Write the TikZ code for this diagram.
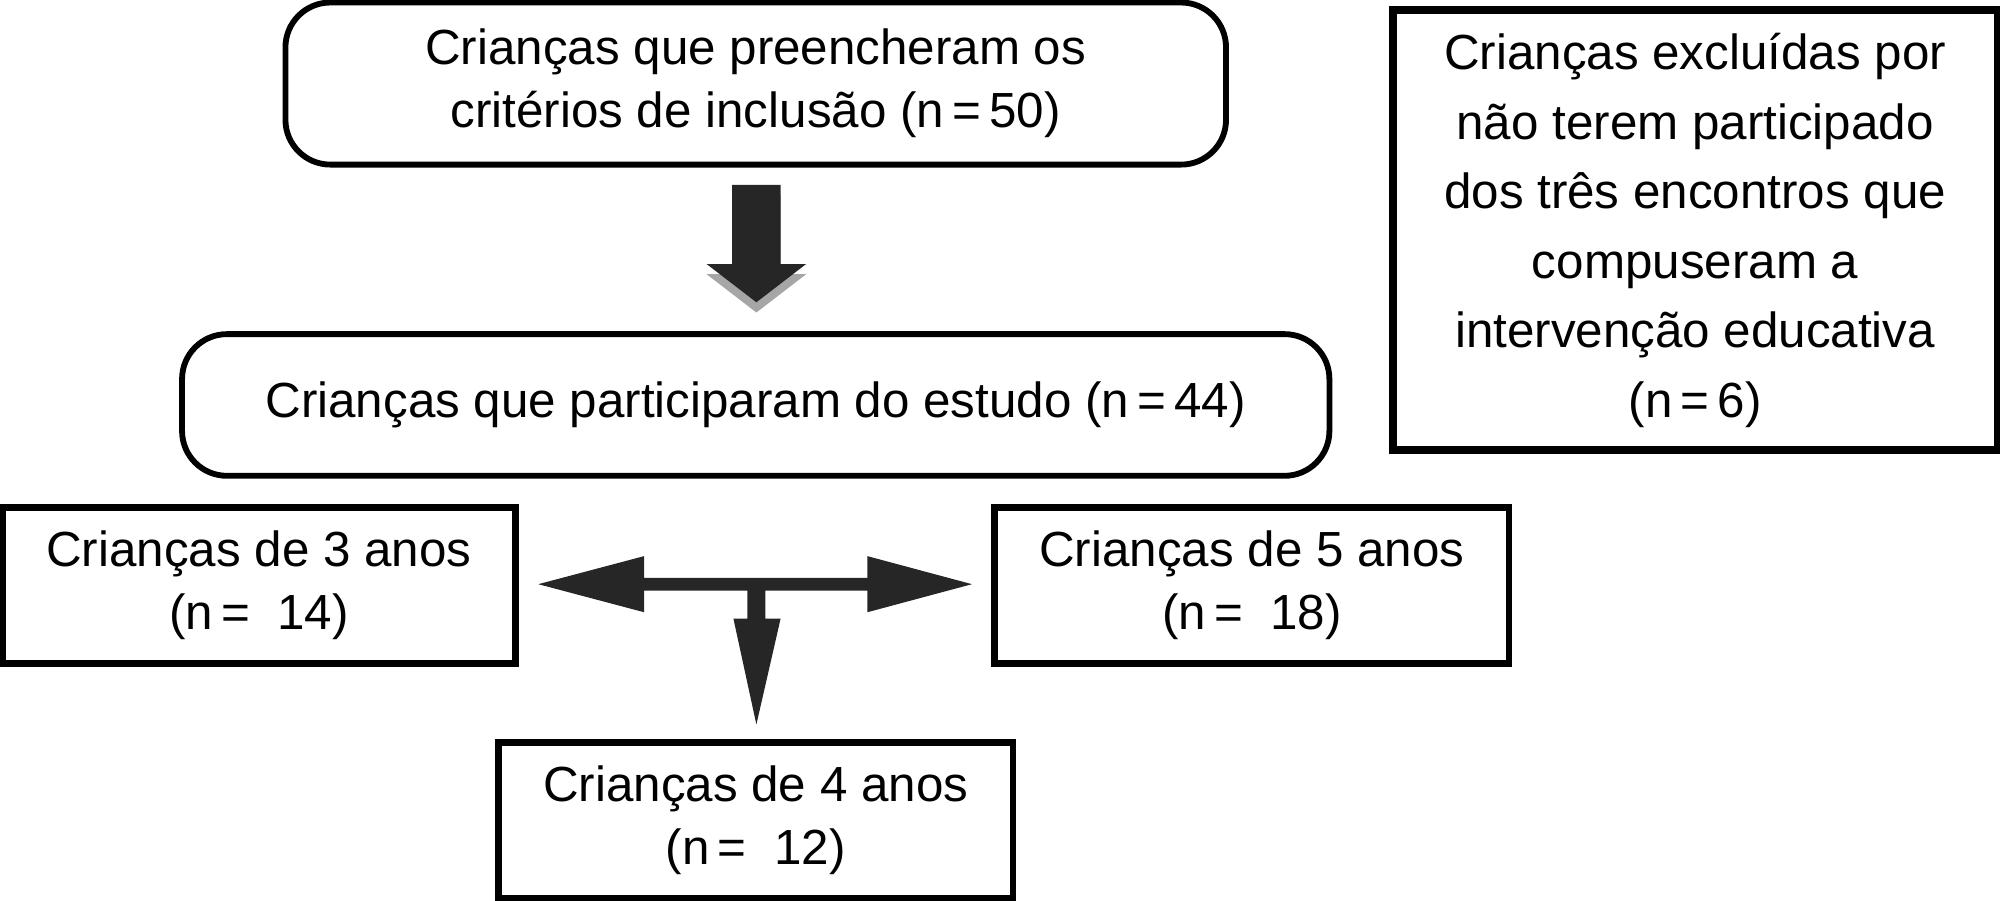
\documentclass[tikz,border=0pt]{standalone}
\usepackage{fontspec}
\setmainfont{Liberation Sans}
\begin{document}
\begin{tikzpicture}[x=0.01cm,y=-0.01cm,
  rbox/.style={draw,line width=1.3pt,rounded corners=10pt,align=center,font=\fontsize{11}{14}\selectfont},
  sbox/.style={draw,line width=1.5pt,align=center,font=\fontsize{11}{14}\selectfont}]
\useasboundingbox (0,0) rectangle (1568,706);
\node[rbox,minimum width=7.37cm,minimum height=1.27cm] (top) at (592.5,65.5) {Crianças que preencheram os\\critérios de inclusão (n\,=\,50)};
\node[sbox,minimum width=4.74cm,minimum height=3.45cm,line width=1.8pt,font=\fontsize{11}{15.5}\selectfont] (excl) at (1329,180.5) {Crianças excluídas por\\não terem participado\\dos três encontros que\\compuseram a\\intervenção educativa\\(n\,=\,6)};
\node[rbox,minimum width=8.99cm,minimum height=1.11cm] (mid) at (592.5,317.5) {Crianças que participaram do estudo (n\,=\,44)};
\node[sbox,minimum width=4.02cm,minimum height=1.22cm] (a3) at (203,459) {Crianças de 3 anos\\(n\,= \ 14)};
\node[sbox,minimum width=4.03cm,minimum height=1.22cm] (a5) at (981.5,459) {Crianças de 5 anos\\(n\,= \ 18)};
\node[sbox,minimum width=4.03cm,minimum height=1.22cm] (a4) at (592.5,643) {Crianças de 4 anos\\(n\,= \ 12)};
% big down arrow with shadow
\fill[gray!70] (574,153)--(612,153)--(612,215)--(632,215)--(593,245)--(554,215)--(574,215)--cycle;
\fill[black!85] (574,145)--(612,145)--(612,207)--(632,207)--(593,237)--(554,207)--(574,207)--cycle;
% cross arrows
\fill[black!85] (505,453)--(680,453)--(680,436)--(762,458)--(680,480)--(680,463)--(600,463)--(600,485)--(612,485)--(593,568)--(575,485)--(586,485)--(586,463)--(505,463)--(505,480)--(422,458)--(505,436)--cycle;
\end{tikzpicture}
\end{document}
